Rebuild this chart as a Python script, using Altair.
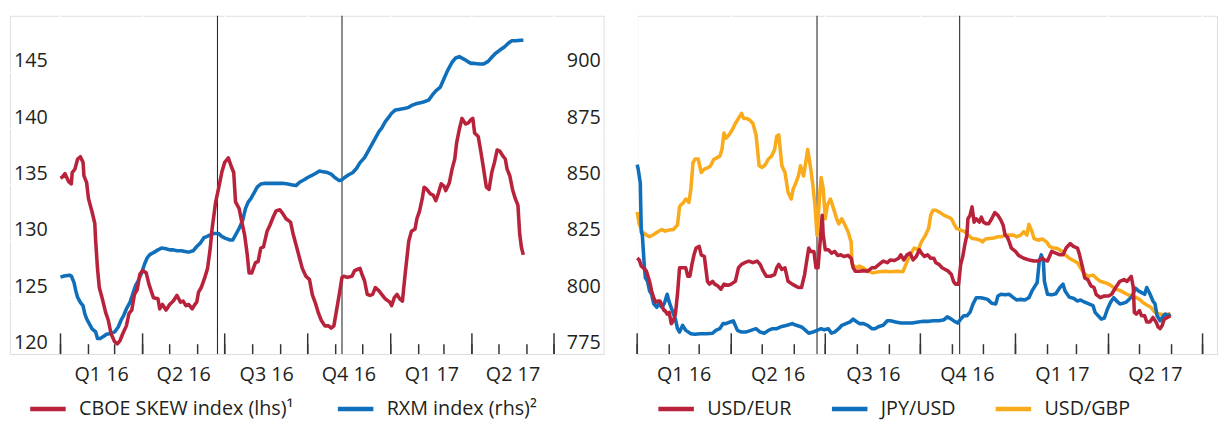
import altair as alt
import pandas as pd

BASE = pd.Timestamp("2016-01-01")
FONT = "Open Sans"
TXT = "#231f20"
BG = "#d9dadc"
RED = "#b8233b"
BLUE = "#0f6fba"
ORANGE = "#f9ab1c"

# ---- left panel data: (days since 2016-01-01, value) ----
skew = [(0,135.6),(2,135.7),(5,136.0),(9,135.3),(12,135.1),(13,136.1),(16,136.4),(19,137.3),(22,137.5),(25,137.0),
        (26,135.8),(29,135.2),(31,133.8),(35,132.6),(38,131.6),(39,130.0),(41,127.6),(43,125.9),(47,124.7),(50,123.7),
        (53,123.0),(56,121.8),(60,121.1),(63,120.9),(66,121.2),(69,121.8),(73,122.5),(76,123.6),(79,123.9),(82,125.3),
        (85,125.7),(88,127.1),(91,127.4),(95,127.2),(98,126.2),(103,125.0),(108,124.9),(110,124.0),(113,124.4),(117,123.9),
        (121,124.4),(125,124.7),(129,125.2),(133,124.6),(136,124.7),(139,124.3),(142,124.4),(146,124.0),(149,124.4),(151,124.6),
        (153,125.5),(156,125.9),(160,126.8),(163,127.6),(166,129.4),(168,131.1),(172,133.5),(175,134.6),(179,136.2),(182,137.0),
        (186,137.4),(189,136.7),(192,136.1),(194,133.5),(198,132.9),(201,131.7),(204,130.6),(207,128.8),(209,127.2),(212,127.2),
        (216,128.1),(219,128.2),(222,129.4),(225,129.5),(229,130.9),(232,131.4),(236,132.2),(239,132.7),(243,132.8),(246,132.5),
        (250,132.0),(255,131.7),(258,130.6),(262,129.4),(265,128.5),(268,127.6),(272,126.9),(276,126.6),(279,125.3),(283,124.4),
        (286,123.6),(289,123.0),(293,122.5),(297,122.5),(300,122.3),(303,122.5),(306,123.9),(309,125.3),(312,126.8),(314,126.9),
        (318,126.8),(323,126.9),(326,127.4),(329,127.5),(332,127.6),(334,127.1),(337,126.5),(340,125.3),(343,125.2),(346,125.3),
        (349,125.9),(353,125.6),(356,125.3),(360,124.9),(365,124.6),(367,124.3),(370,125.0),(373,125.3),(376,124.9),(379,124.7),
        (382,127.1),(386,130.0),(389,130.9),(393,131.1),(395,132.0),(398,132.7),(401,133.8),(403,134.8),(406,134.6),(410,134.2),
        (413,134.1),(416,133.6),(419,134.3),(422,135.1),(425,134.9),(427,134.5),(431,135.2),(434,136.4),(437,137.3),(439,138.7),
        (442,139.9),(445,140.9),(449,140.4),(452,140.5),(455,140.8),(457,140.9),(459,139.6),(463,139.3),(466,137.9),(469,136.4),
        (472,134.8),(475,134.6),(478,136.1),(481,137.0),(484,138.1),(487,138.0),(490,137.6),(493,137.3),(495,136.4),(498,135.8),
        (501,134.6),(504,133.8),(507,133.2),(509,130.6),(511,129.4),(513,128.8)]

rxm = [(0,809.1),(4,809.6),(10,810.0),(12,809.6),(15,806.7),(17,803.0),(19,800.1),(22,797.9),(25,796.4),(27,792.8),
       (29,790.6),(32,788.4),(35,786.2),(39,784.8),(41,781.9),(44,781.9),(48,782.9),(51,783.8),(54,784.0),(57,784.3),
       (60,784.8),(64,787.0),(67,789.9),(70,792.1),(73,795.0),(77,797.9),(80,801.5),(83,805.2),(86,807.4),(90,811.0),
       (93,814.7),(96,817.6),(99,819.1),(104,820.2),(108,821.2),(112,822.0),(117,821.7),(121,821.2),(125,821.2),(129,820.8),
       (134,820.8),(138,820.5),(142,820.2),(147,820.8),(151,822.7),(155,824.2),(159,826.6),(162,827.1),(166,827.8),(170,828.5),
       (175,828.5),(179,827.1),(183,826.3),(188,825.6),(191,825.6),(194,827.8),(198,830.7),(202,834.4),(205,839.5),(208,842.4),
       (211,843.9),(215,846.8),(218,849.0),(222,850.4),(227,850.7),(233,850.7),(239,850.7),(246,850.7),(252,850.4),(257,850.0),
       (261,849.7),(265,851.2),(270,852.3),(274,853.3),(278,854.1),(283,855.2),(287,856.2),(291,855.8),(296,855.5),(300,854.8),
       (304,853.3),(309,851.9),(312,852.3),(315,853.3),(319,854.4),(324,855.5),(328,857.3),(332,859.9),(337,862.1),(341,865.0),
       (345,867.9),(349,870.8),(353,873.7),(356,875.2),(360,878.1),(363,879.6),(367,881.8),(371,883.2),(375,883.5),(382,884.0),
       (386,884.4),(390,885.4),(395,886.1),(399,886.4),(403,886.9),(408,887.6),(412,889.8),(416,891.7),(421,893.4),(425,897.1),
       (429,900.7),(434,904.4),(438,906.3),(442,906.9),(447,905.8),(451,904.8),(455,903.9),(459,903.9),(464,903.6),(469,903.6),
       (474,904.8),(478,906.6),(482,908.3),(487,909.8),(492,911.2),(496,912.7),(500,913.9),(505,913.9),(510,914.2),(513,914.2)]

# ---- right panel data (grid units) ----
usdeur = [(0,1.70),(2,1.67),(4,1.56),(6,1.53),(9,1.47),(11,1.35),(12,1.29),(14,1.12),(16,1.00),(18,0.92),(20,0.94),(22,0.94),
          (24,0.86),(26,0.77),(27,0.77),(29,0.71),(31,0.74),(33,0.54),(35,0.59),(37,0.71),(39,1.06),(41,1.53),(42,1.53),(45,1.53),
          (47,1.53),(49,1.38),(51,1.38),(53,1.59),(55,1.76),(57,1.88),(60,1.91),(62,1.76),(65,1.73),(68,1.29),(70,1.24),(73,1.29),
          (75,1.24),(78,1.21),(81,1.15),(84,1.24),(88,1.22),(91,1.24),(95,1.29),(98,1.53),(101,1.59),(104,1.62),(108,1.65),(112,1.62),
          (116,1.65),(119,1.59),(122,1.47),(125,1.38),(129,1.38),(133,1.41),(135,1.53),(137,1.59),(140,1.50),(143,1.53),(146,1.29),
          (150,1.24),(153,1.21),(156,1.18),(159,1.18),(162,1.41),(164,1.65),(166,1.88),(168,1.82),(171,1.82),(173,1.53),(175,1.53),
          (176,1.76),(178,2.23),(179,2.46),(180,2.11),(182,1.85),(185,1.85),(188,1.79),(191,1.82),(194,1.75),(197,1.76),(200,1.73),
          (204,1.75),(207,1.70),(209,1.53),(211,1.47),(215,1.47),(219,1.48),(223,1.47),(227,1.53),(230,1.53),(234,1.59),(238,1.65),
          (242,1.62),(245,1.67),(249,1.66),(253,1.70),(255,1.76),(258,1.67),(261,1.76),(264,1.79),(267,1.67),(270,1.73),(273,1.85),
          (275,1.79),(278,1.73),(281,1.76),(284,1.70),(287,1.70),(289,1.62),(292,1.59),(295,1.53),(298,1.50),(301,1.47),(304,1.41),
          (306,1.29),(308,1.24),(311,1.24),(313,1.59),(315,1.73),(317,1.94),(319,2.11),(320,2.40),(322,2.46),(324,2.61),(326,2.34),
          (328,2.40),(331,2.34),(333,2.43),(335,2.34),(338,2.31),(340,2.31),(343,2.40),(346,2.51),(349,2.46),(352,2.37),(354,2.29),
          (356,2.11),(358,2.08),(360,1.99),(362,1.88),(366,1.82),(369,1.75),(374,1.70),(379,1.67),(384,1.65),(388,1.65),(392,1.70),
          (394,1.67),(397,1.65),(401,1.82),(405,1.79),(409,1.76),(412,1.76),(415,1.88),(419,1.96),(422,1.91),(426,1.88),(428,1.76),
          (431,1.53),(433,1.35),(436,1.32),(439,1.21),(442,1.18),(444,1.06),(448,1.00),(452,1.03),(456,1.03),(459,1.06),(463,1.18),
          (467,1.29),(471,1.32),(474,1.29),(478,1.38),(480,1.18),(481,0.74),(483,0.71),(486,0.77),(488,0.68),(491,0.68),(493,0.57),
          (496,0.57),(499,0.65),(502,0.57),(504,0.48),(506,0.45),(508,0.51),(510,0.62),(513,0.65),(516,0.68)]

jpyusd = [(0,3.36),(1,3.28),(3,3.04),(4,2.17),(5,2.11),(7,1.53),(8,1.35),(10,1.29),(12,1.12),(14,1.06),(16,0.89),(19,0.83),
          (21,0.89),(24,0.83),(26,0.89),(27,0.94),(29,1.06),(31,0.92),(34,0.77),(37,0.62),(39,0.45),(41,0.39),(44,0.51),(47,0.42),
          (52,0.36),(56,0.35),(61,0.36),(67,0.36),(73,0.37),(76,0.42),(80,0.45),(83,0.54),(86,0.54),(90,0.57),(93,0.59),(97,0.42),
          (101,0.39),(105,0.39),(110,0.42),(115,0.45),(119,0.39),(123,0.37),(127,0.42),(131,0.45),(135,0.45),(140,0.49),(145,0.51),
          (150,0.54),(154,0.51),(159,0.48),(163,0.42),(166,0.37),(170,0.39),(174,0.42),(178,0.45),(181,0.43),(185,0.45),(188,0.37),
          (191,0.39),(195,0.45),(198,0.51),(202,0.54),(206,0.57),(209,0.62),(211,0.59),(215,0.54),(219,0.54),(223,0.51),(227,0.45),
          (230,0.45),(234,0.49),(238,0.51),(242,0.59),(245,0.59),(250,0.57),(255,0.55),(260,0.55),(266,0.55),(272,0.57),(277,0.58),
          (282,0.58),(287,0.59),(292,0.59),(297,0.61),(300,0.66),(304,0.62),(307,0.58),(310,0.55),(313,0.62),(316,0.68),(319,0.68),
          (322,0.74),(325,0.89),(328,1.00),(332,1.00),(335,0.99),(339,0.97),(343,0.90),(347,0.89),(349,1.03),(352,1.06),(356,1.05),
          (360,1.06),(364,1.00),(367,0.96),(371,0.97),(375,0.96),(379,1.00),(382,1.12),(385,1.21),(387,1.27),(389,1.64),(391,1.76),
          (393,1.64),(394,1.29),(397,1.06),(401,1.05),(405,1.07),(409,1.18),(412,1.24),(414,1.12),(418,1.01),(422,0.99),(426,0.94),
          (429,0.96),(433,0.92),(437,0.89),(441,0.86),(443,0.74),(446,0.68),(449,0.62),(452,0.64),(455,0.80),(458,0.92),(461,1.00),
          (464,0.94),(467,0.89),(470,0.90),(473,0.92),(476,0.97),(479,1.03),(482,1.17),(485,1.12),(488,1.09),(491,1.06),(493,1.18),
          (496,1.07),(499,0.94),(501,0.89),(503,0.68),(506,0.59),(508,0.65),(511,0.71),(514,0.68),(516,0.71)]

usdgbp = [(0,2.52),(2,2.31),(5,2.17),(9,2.11),(12,2.08),(16,2.12),(20,2.17),(24,2.21),(27,2.18),(31,2.20),(35,2.21),(39,2.29),
          (41,2.61),(42,2.64),(45,2.69),(47,2.75),(50,2.69),(52,2.93),(54,3.39),(56,3.46),(59,3.46),(62,3.22),(65,3.28),(69,3.31),
          (71,3.34),(74,3.45),(77,3.48),(80,3.51),(82,3.63),(84,3.92),(86,3.83),(89,3.89),(92,3.98),(95,4.09),(98,4.18),(101,4.27),
          (103,4.18),(106,4.18),(109,4.15),(112,4.09),(115,3.89),(118,3.34),(121,3.31),(124,3.36),(127,3.46),(130,3.51),(133,3.63),
          (135,3.86),(137,3.89),(140,3.34),(143,3.22),(146,2.87),(149,2.75),(151,2.93),(153,3.01),(156,3.16),(158,3.34),(161,3.16),
          (163,3.39),(165,3.63),(168,3.28),(170,2.99),(172,2.64),(174,2.11),(177,2.93),(178,3.13),(180,2.93),(182,2.40),(184,2.64),
          (187,2.75),(190,2.58),(193,2.40),(195,2.31),(198,2.40),(201,2.29),(204,2.17),(207,1.99),(208,1.59),(211,1.53),(215,1.56),
          (219,1.53),(223,1.47),(228,1.44),(234,1.46),(240,1.47),(245,1.46),(251,1.47),(257,1.46),(260,1.59),(264,1.76),(268,1.88),
          (272,1.85),(275,1.99),(279,2.11),(282,2.23),(284,2.46),(286,2.55),(289,2.55),(293,2.51),(297,2.46),(301,2.43),(304,2.40),
          (307,2.29),(309,2.23),(313,2.20),(317,2.17),(320,2.11),(324,2.05),(328,2.04),(332,2.02),(334,1.99),(337,2.04),(341,2.05),
          (345,2.06),(349,2.08),(352,2.08),(356,2.11),(360,2.11),(364,2.11),(367,2.08),(371,2.11),(374,2.17),(377,2.11),(379,2.30),
          (382,2.17),(384,2.05),(388,2.02),(392,2.04),(396,1.99),(399,1.91),(403,1.88),(407,1.87),(411,1.82),(414,1.76),(418,1.70),
          (422,1.66),(426,1.62),(429,1.53),(432,1.44),(436,1.38),(441,1.40),(444,1.35),(448,1.29),(452,1.27),(456,1.24),(459,1.21),
          (463,1.15),(467,1.13),(471,1.09),(474,1.06),(478,1.03),(482,1.01),(486,0.97),(489,0.92),(493,0.87),(497,0.83),(501,0.74),
          (505,0.71),(508,0.70),(512,0.70),(516,0.72)]

lhs_ticks = [120, 125, 130, 135, 140, 145]
rhs_ticks = [775, 800, 825, 850, 875, 900]
lhs_grid = [125, 130, 135, 140, 145]
fx_grid = [1, 2, 3, 4, 5]
events = ["2016-06-23", "2016-11-08"]
left_labels = ["CBOE SKEW index (lhs)¹", "RXM index (rhs)²"]
right_labels = ["USD/EUR", "JPY/USD", "USD/GBP"]

W_L, W_R, H = 602, 588, 343


def frame(pairs, series):
    return pd.DataFrame({"date": [BASE + pd.Timedelta(days=d) for d, _ in pairs],
                         "v": [v for _, v in pairs],
                         "series": series})


months = pd.date_range("2016-01-01", "2017-07-01", freq="MS")
ticks_df = pd.DataFrame({"date": months})
quarters_df = pd.DataFrame({"date": [m for m in months if m.month in (1, 4, 7, 10)]})
events_df = pd.DataFrame({"date": pd.to_datetime(events)})

mid_q = [alt.DateTime(year=2016, month=2, date=15), alt.DateTime(year=2016, month=5, date=16),
         alt.DateTime(year=2016, month=8, date=16), alt.DateTime(year=2016, month=11, date=15),
         alt.DateTime(year=2017, month=2, date=15), alt.DateTime(year=2017, month=5, date=16)]

xaxis = alt.Axis(values=mid_q,
                 labelExpr="'Q' + quarter(datum.value) + ' ' + timeFormat(datum.value, '%y')",
                 domain=False, ticks=False, grid=False, labelFont=FONT, labelFontSize=20,
                 labelColor=TXT, labelPadding=11, labelAngle=0, labelFlush=False,
                 labelOverlap=False, title=None)


def panel_layers(xscale, yscale_grid, grid_vals):
    X = lambda: alt.X("date:T", scale=xscale, axis=xaxis, title=None)
    hgrid = alt.Chart(pd.DataFrame({"g": grid_vals})).mark_rule(color="white", strokeWidth=1.5).encode(
        y=alt.Y("g:Q", scale=yscale_grid, axis=None))
    vgrid = alt.Chart(quarters_df).mark_rule(color="white", strokeWidth=1.5).encode(x=X())
    qt = alt.Chart(quarters_df).mark_rule(color="#333333", strokeWidth=1.5).encode(
        x=X(), y=alt.value(H), y2=alt.value(H - 21))
    mt = alt.Chart(ticks_df).mark_rule(color="#333333", strokeWidth=1.5).encode(
        x=X(), y=alt.value(H), y2=alt.value(H - 10))
    ev = alt.Chart(events_df).mark_rule(color="#2a2a2a", strokeWidth=1.1).encode(x=X())
    return X, [hgrid, vgrid, qt, mt, ev]


legend_common = dict(title=None, orient="none", direction="horizontal", symbolType="stroke",
                     symbolSize=1296, symbolStrokeWidth=4.5, labelFont=FONT, labelFontSize=20,
                     labelColor=TXT, labelLimit=600, labelOffset=11, padding=0)

# ---------------- left panel ----------------
xs_left = alt.Scale(domain=[alt.DateTime(year=2015, month=11, date=6),
                            alt.DateTime(year=2017, month=8, date=25)])
lhs_scale = alt.Scale(domain=[120, 150], nice=False, zero=False)
rhs_scale = alt.Scale(domain=[775, 925], nice=False, zero=False)
cscale_left = alt.Scale(domain=left_labels, range=[RED, BLUE])
legend_left = alt.Legend(legendX=18, legendY=378, columnPadding=35, **legend_common)

XL, base_left = panel_layers(xs_left, lhs_scale, lhs_grid)

blue_line = alt.Chart(frame(rxm, left_labels[1])).mark_line(strokeWidth=3.6, strokeJoin="round").encode(
    x=XL(), y=alt.Y("v:Q", scale=rhs_scale, axis=None),
    color=alt.Color("series:N", scale=cscale_left, legend=legend_left))
red_line = alt.Chart(frame(skew, left_labels[0])).mark_line(strokeWidth=3.6, strokeJoin="round").encode(
    x=XL(), y=alt.Y("v:Q", scale=lhs_scale, axis=None),
    color=alt.Color("series:N", scale=cscale_left, legend=legend_left))
lhs_text = alt.Chart(pd.DataFrame({"t": lhs_ticks})).mark_text(
    align="left", baseline="alphabetic", dy=-5, font=FONT, fontSize=20, color=TXT).encode(
    x=alt.value(4), y=alt.Y("t:Q", scale=lhs_scale, axis=None), text=alt.Text("t:Q"))
rhs_text = alt.Chart(pd.DataFrame({"t": rhs_ticks})).mark_text(
    align="right", baseline="alphabetic", dy=-5, font=FONT, fontSize=20, color=TXT).encode(
    x=alt.value(W_L - 3), y=alt.Y("t:Q", scale=rhs_scale, axis=None), text=alt.Text("t:Q"))

left = alt.layer(*base_left, blue_line, red_line, lhs_text, rhs_text).resolve_scale(
    y="independent").properties(width=W_L, height=H)

# ---------------- right panel ----------------
xs_right = alt.Scale(domain=[alt.DateTime(year=2016, month=1, date=1),
                             alt.DateTime(year=2017, month=7, date=15)])
fx_scale = alt.Scale(domain=[0, 6], nice=False, zero=False)
cscale_right = alt.Scale(domain=right_labels, range=[RED, BLUE, ORANGE])
legend_right = alt.Legend(legendX=19, legendY=378, columnPadding=31, **legend_common)

XR, base_right = panel_layers(xs_right, fx_scale, fx_grid)


def fx_line(pairs, label):
    return alt.Chart(frame(pairs, label)).mark_line(strokeWidth=3.6, strokeJoin="round").encode(
        x=XR(), y=alt.Y("v:Q", scale=fx_scale, axis=None),
        color=alt.Color("series:N", scale=cscale_right, legend=legend_right))


gbp_line = fx_line(usdgbp, right_labels[2])
jpy_line = fx_line(jpyusd, right_labels[1])
eur_line = fx_line(usdeur, right_labels[0])

right = alt.layer(*base_right, gbp_line, jpy_line, eur_line).properties(width=W_R, height=H)

chart = alt.hconcat(left, right, spacing=29).resolve_scale(color="independent").properties(
    padding={"left": 0, "top": 3, "right": 0, "bottom": 0}
).configure_view(fill=BG, strokeWidth=0).configure(font=FONT)

chart.save("out.html", embed_options={"renderer": "svg", "actions": False})
